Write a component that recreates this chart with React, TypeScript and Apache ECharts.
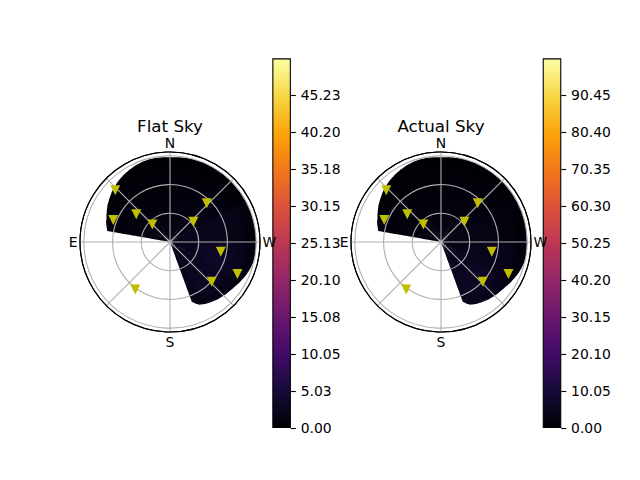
import React, { useEffect, useRef } from 'react';
import * as echarts from 'echarts';

// ---------- data ----------
const TITLES = ['Flat Sky', 'Actual Sky'];
const COMPASS: Record<number, string> = { 0: 'N', 90: 'E', 180: 'S', 270: 'W' };

// zenith-angle ring edges (deg) and azimuth column edges (deg) of the sky cells
const ZEN_EDGES = [0, 10, 20, 30, 40, 50, 60, 70, 80, 90];
const AZ_EDGES = [0, 30, 60, 90, 120, 150, 180, 210, 240, 270, 300, 330, 360];

// horizon outline: max visible zenith sampled every 5 deg of azimuth (0, 5, ... 355); null = blocked
const HORIZON_STEP = 5;
const HORIZON: (number | null)[] = [
  88.5, 88.8, 89, 89, 88.4, 87.5, 86.3, 85, 83.6, 81.8, 79.8, 77.6, 75.4, 73, 70.6, 68.8, 66.5,
  null, null, null, null, null, null, null, null, null, null, null, null,
  null, null, null, null, null, null, null, null, null, null, null,
  66.5, 72.3, 74.5, 76.3, 78, 79.2, 80.4, 82, 84, 86, 87.8, 89.2,
  90, 90, 90, 90, 90, 90, 90, 90, 90, 90, 90, 90, 90, 90, 90, 90,
  89.8, 89.5, 89.2, 88.8,
];

// sky brightness, rows = zenith rings, columns = azimuth sectors
const FLAT_SKY: (number | null)[][] = [
  [1.4, 1.4, 1.4, null, null, null, 1.7, 1.8, 1.8, 1.7, 1.6, 1.5],
  [1.25, 1.25, 1.3, null, null, null, 1.8, 2.0, 2.1, 1.8, 1.55, 1.4],
  [1.1, 1.1, 1.15, null, null, null, 1.9, 2.3, 2.4, 2.0, 1.5, 1.25],
  [0.95, 0.95, 1.0, null, null, null, 2.0, 2.6, 2.8, 2.1, 1.45, 1.1],
  [0.78, 0.78, 0.82, null, null, null, 2.0, 2.8, 3.1, 2.2, 1.35, 0.95],
  [0.6, 0.6, 0.64, null, null, null, 1.9, 2.8, 3.1, 2.2, 1.2, 0.78],
  [0.45, 0.45, 0.48, null, null, null, 1.7, 2.5, 2.8, 1.9, 0.95, 0.6],
  [0.3, 0.3, 0.33, null, null, null, 1.3, 1.9, 2.1, 1.5, 0.7, 0.4],
  [0.16, 0.16, 0.2, null, null, null, 0.7, 1.1, 1.2, 0.85, 0.4, 0.22],
];
const ACTUAL_SKY: (number | null)[][] = [
  [2.8, 2.8, 2.8, null, null, null, 3.4, 3.4, 3.2, 3.0, 2.9, 2.8],
  [2.5, 2.5, 2.6, null, null, null, 3.7, 3.8, 3.4, 3.0, 2.7, 2.6],
  [2.2, 2.2, 2.3, null, null, null, 4.2, 4.5, 3.7, 3.0, 2.5, 2.3],
  [1.8, 1.8, 1.9, null, null, null, 4.8, 5.2, 4.0, 2.9, 2.3, 1.95],
  [1.5, 1.5, 1.6, null, null, null, 5.3, 5.8, 4.3, 2.8, 2.0, 1.6],
  [1.15, 1.15, 1.25, null, null, null, 5.5, 6.1, 4.4, 2.6, 1.75, 1.3],
  [0.85, 0.85, 0.92, null, null, null, 5.0, 5.5, 3.9, 2.2, 1.4, 0.95],
  [0.56, 0.56, 0.62, null, null, null, 3.7, 4.1, 3.0, 1.6, 1.0, 0.65],
  [0.3, 0.3, 0.35, null, null, null, 2.0, 2.2, 1.7, 1.0, 0.55, 0.36],
];

const FLAT_MAX = 50.26;
const ACTUAL_MAX = 100.5;
const FLAT_TICKS = [0, 5.03, 10.05, 15.08, 20.1, 25.13, 30.15, 35.18, 40.2, 45.23];
const ACTUAL_TICKS = [0, 10.05, 20.1, 30.15, 40.2, 50.25, 60.3, 70.35, 80.4, 90.45];

// satellites (zenith deg, azimuth deg)
const SAT_ZENITH = [78.7, 63.6, 45.6, 25.9, 32.4, 55.8, 54.0, 78.0, 60.2, 61.4];
const SAT_AZIMUTH = [46.6, 68.8, 50.6, 45.5, 311.0, 316.5, 259.2, 244.6, 226.4, 143.8];

const R_MAX = 94;
const INFERNO = [
  '#000004', '#160b39', '#420a68', '#6a176e', '#932667', '#bc3754',
  '#dd513a', '#f37819', '#fca50a', '#f6d746', '#fcffa4',
];

// ---------- helpers ----------
const FONT = 'DejaVu Sans';

function cells(grid: (number | null)[][]) {
  const out: number[][] = [];
  grid.forEach((row, i) =>
    row.forEach((v, j) => {
      if (v != null) out.push([ZEN_EDGES[i], ZEN_EDGES[i + 1], AZ_EDGES[j], AZ_EDGES[j + 1], v]);
    })
  );
  return out;
}

const nH = HORIZON.length;
const wrap = (s: number) => ((s % nH) + nH) % nH;
const segVisible = (s: number) => HORIZON[wrap(s)] != null && HORIZON[wrap(s + 1)] != null;
const segR = (s: number, t: number) => {
  const h0 = HORIZON[wrap(s)] as number;
  const h1 = HORIZON[wrap(s + 1)] as number;
  return h0 + (h1 - h0) * t;
};

// one polygon per visible run of horizon segments inside a cell,
// slightly overlapping the previously drawn neighbours to avoid seams
function renderCell(_params: any, api: any) {
  const z0 = api.value(0);
  const z1 = api.value(1);
  const a0 = api.value(2);
  const a1 = api.value(3);
  const fill = api.visual('color');
  const zIn = z0 > 0 ? Math.max(0, z0 - 1.2) : 0;
  const sStart = Math.round(a0 / HORIZON_STEP);
  const sEnd = Math.round(a1 / HORIZON_STEP);
  const usable = (s: number) => segVisible(s) && Math.max(segR(s, 0), segR(s, 1)) > z0;
  const runs: number[][] = [];
  let cur: number[] = [];
  for (let s = sStart; s < sEnd; s++) {
    if (usable(s)) cur.push(s);
    else if (cur.length) {
      runs.push(cur);
      cur = [];
    }
  }
  if (cur.length) runs.push(cur);

  const clampTop = (r: number) => Math.max(zIn, Math.min(z1, r));
  const children = runs.map((run) => {
    const pts: number[][] = [];
    const sA = run[0];
    const sB = run[run.length - 1] + 1;
    let aFrom = sA * HORIZON_STEP;
    if (usable(sA - 1)) {
      aFrom -= 1;
      pts.push(api.coord([clampTop(segR(sA - 1, 0.8)), aFrom]));
    }
    run.forEach((s, idx) => {
      for (let st = idx === 0 ? 0 : 1; st <= HORIZON_STEP; st++) {
        pts.push(api.coord([clampTop(segR(s, st / HORIZON_STEP)), s * HORIZON_STEP + st]));
      }
    });
    const aTo = sB * HORIZON_STEP;
    if (zIn <= 0) pts.push(api.coord([0, aFrom]));
    else {
      for (let a = aTo; a > aFrom; a -= 1) pts.push(api.coord([zIn, a]));
      pts.push(api.coord([zIn, aFrom]));
    }
    return {
      type: 'polygon',
      shape: { points: pts },
      style: { fill },
    };
  });
  return { type: 'group', children };
}

const gradient = () =>
  new echarts.graphic.LinearGradient(
    0, 1, 0, 0,
    INFERNO.map((c, i) => ({ offset: i / (INFERNO.length - 1), color: c }))
  );

export default function App() {
  const ref = useRef<HTMLDivElement>(null);

  useEffect(() => {
    if (!ref.current) return;
    const chart = echarts.init(ref.current, undefined, { renderer: 'svg' });

    const centers = [[170, 242], [441, 242]];
    const cbLeft = [272.3, 542.7];
    const skies = [FLAT_SKY, ACTUAL_SKY];
    const maxes = [FLAT_MAX, ACTUAL_MAX];
    const ticks = [FLAT_TICKS, ACTUAL_TICKS];

    const satData = SAT_ZENITH.map((z, i) => [z, SAT_AZIMUTH[i]]);

    const option: any = {
      animation: false,
      backgroundColor: '#ffffff',
      polar: centers.map((c) => ({ center: c, radius: [0, 90] })),
      angleAxis: centers.map((_, i) => ({
        polarIndex: i,
        type: 'value',
        min: 0,
        max: 360,
        interval: 45,
        startAngle: 90,
        clockwise: false,
        z: 3,
        axisLine: { show: true, lineStyle: { color: '#000', width: 1.1 } },
        axisTick: { show: false },
        splitLine: { show: true, lineStyle: { color: '#b0b0b0', width: 1.1 } },
        axisLabel: {
          formatter: (v: number) => COMPASS[v] ?? '',
          margin: 2.5,
          color: '#000',
          fontSize: 13.9,
          fontFamily: FONT,
        },
      })),
      radiusAxis: centers.map((_, i) => ({
        polarIndex: i,
        type: 'value',
        min: 0,
        max: R_MAX,
        interval: 30,
        z: 3,
        axisLine: { show: false },
        axisTick: { show: false },
        axisLabel: { show: false },
        splitLine: {
          show: true,
          lineStyle: { color: ['#b0b0b0', '#b0b0b0', '#b0b0b0', '#b0b0b0', '#000000'], width: 1.1 },
        },
      })),
      grid: cbLeft.map((l) => ({ left: l, top: 58.3, width: 18.6, height: 369.7, show: false })),
      xAxis: cbLeft.map((_, i) => ({ gridIndex: i, type: 'category', data: [''], show: false })),
      yAxis: cbLeft.map((_, i) => ({
        gridIndex: i,
        type: 'value',
        min: 0,
        max: maxes[i],
        position: 'right',
        axisLine: { show: false },
        splitLine: { show: false },
        axisTick: {
          show: true,
          length: 4.9,
          customValues: ticks[i],
          lineStyle: { color: '#000', width: 1.1 },
        },
        axisLabel: {
          customValues: ticks[i],
          formatter: (v: number) => v.toFixed(2),
          margin: 9.8,
          color: '#000',
          fontSize: 13.9,
          fontFamily: FONT,
        },
      })),
      visualMap: maxes.map((m, i) => ({
        type: 'continuous',
        show: false,
        seriesIndex: i,
        dimension: 4,
        min: 0,
        max: m,
        inRange: { color: INFERNO },
      })),
      graphic: centers.map((c, i) => ({
        type: 'text',
        x: c[0],
        y: 126,
        style: {
          text: TITLES[i],
          align: 'center',
          verticalAlign: 'middle',
          fontSize: 16.7,
          fontFamily: FONT,
          fill: '#000',
        },
      })),
      series: [
        ...skies.map((g, i) => ({
          type: 'custom',
          coordinateSystem: 'polar',
          polarIndex: i,
          renderItem: renderCell,
          data: cells(g),
          encode: { radius: [0, 1], angle: [2, 3] },
          silent: true,
          z: 1,
        })),
        ...centers.map((_, i) => ({
          type: 'scatter',
          coordinateSystem: 'polar',
          polarIndex: i,
          data: satData,
          symbol: 'triangle',
          symbolRotate: 180,
          symbolSize: 10,
          itemStyle: { color: '#bfbf00', opacity: 1 },
          silent: true,
          z: 5,
        })),
        ...maxes.map((m, i) => ({
          type: 'bar',
          xAxisIndex: i,
          yAxisIndex: i,
          data: [m],
          barWidth: '100%',
          itemStyle: { color: gradient(), borderColor: '#000', borderWidth: 1.1 },
          silent: true,
        })),
      ],
    };

    chart.setOption(option);
    return () => chart.dispose();
  }, []);

  return (
    <div
      ref={ref}
      style={{ position: 'absolute', left: 0, top: 0, width: 640, height: 480, background: '#fff' }}
    />
  );
}
